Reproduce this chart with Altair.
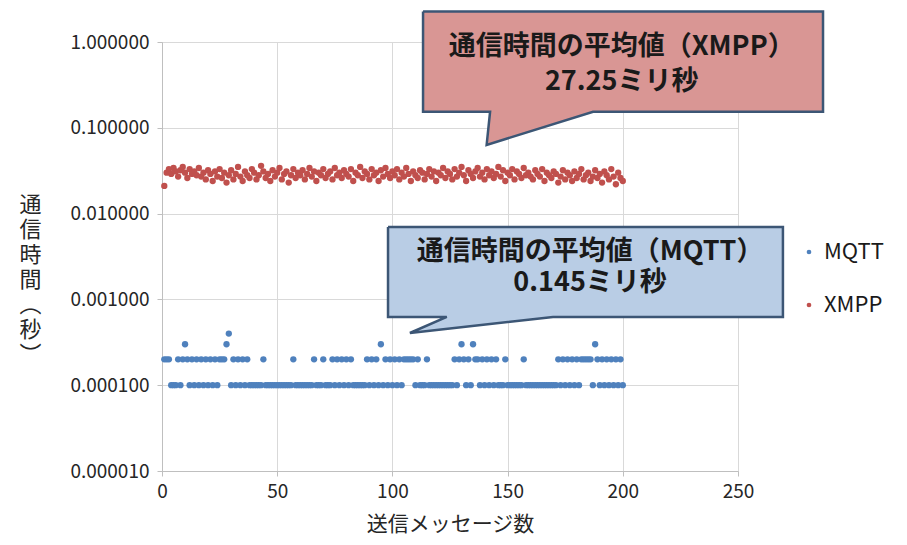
import altair as alt
import pandas as pd

# ---------------- data ----------------
message_no = list(range(1, 201))

mqtt_us = [
    200, 200, 200, 100, 100, 100, 200, 100, 200, 300,
    200, 100, 200, 100, 200, 100, 200, 100, 200, 100,
    200, 100, 200, 100, 200, 200, 200, 300, 400, 100,
    200, 100, 200, 100, 200, 100, 200, 100, 100, 100,
    100, 100, 100, 200, 100, 100, 100, 100, 100, 100,
    100, 100, 100, 100, 100, 100, 200, 100, 100, 100,
    100, 100, 100, 100, 100, 200, 100, 100, 100, 200,
    100, 100, 100, 200, 100, 200, 100, 200, 100, 200,
    100, 200, 100, 100, 100, 100, 100, 100, 200, 100,
    200, 100, 200, 100, 300, 100, 200, 100, 200, 100,
    200, 100, 200, 100, 200, 200, 200, 200, 200, 100,
    200, 100, 100, 100, 200, 100, 100, 100, 100, 100,
    100, 100, 100, 100, 100, 100, 200, 100, 200, 300,
    200, 100, 200, 100, 300, 200, 200, 100, 200, 100,
    200, 100, 200, 100, 200, 100, 100, 100, 200, 100,
    100, 100, 100, 100, 100, 100, 200, 100, 100, 100,
    100, 100, 100, 100, 100, 100, 100, 100, 100, 100,
    100, 200, 100, 200, 100, 200, 100, 200, 100, 200,
    100, 200, 200, 200, 200, 200, 100, 300, 200, 100,
    200, 100, 200, 100, 200, 100, 200, 100, 200, 100,
]

xmpp_ms = [
    21, 30, 33, 29, 34, 31, 27, 32, 35, 30, 26, 33, 29, 31, 28, 34, 27, 30, 25, 32,
    29, 24, 31, 27, 33, 26, 30, 23, 28, 32, 25, 29, 35, 27, 24, 31, 28, 26, 33, 30,
    25, 28, 36, 31, 26, 29, 24, 32, 27, 30, 34, 25, 29, 31, 23, 28, 33, 26, 30, 28,
    32, 25, 29, 34, 27, 31, 24, 30, 28, 33, 26, 29, 31, 25, 34, 28, 30, 26, 32, 29,
    27, 33, 24, 30, 28, 35, 26, 31, 29, 25, 33, 28, 30, 24, 32, 27, 34, 29, 26, 31,
    28, 33, 25, 30, 27, 34, 29, 24, 31, 28, 26, 32, 30, 25, 29, 33, 27, 31, 24, 30,
    28, 34, 26, 31, 29, 25, 33, 27, 30, 35, 28, 24, 32, 29, 26, 31, 34, 27, 30, 25,
    33, 28, 31, 26, 29, 35, 27, 32, 24, 30, 28, 33, 25, 31, 29, 26, 34, 28, 30, 27,
    25, 32, 29, 27, 33, 24, 30, 28, 26, 31, 29, 23, 27, 32, 25, 30, 28, 24, 31, 26,
    29, 33, 25, 28, 30, 24, 27, 32, 26, 29, 23, 31, 28, 25, 33, 27, 22, 30, 26, 24,
]

series_names = ["MQTT", "XMPP"]
series_colors = ["#4F81BD", "#C0504D"]

x_ticks = [0, 50, 100, 150, 200, 250]
y_ticks = [0.00001, 0.0001, 0.001, 0.01, 0.1, 1.0]

xmpp_label = "通信時間の平均値（XMPP）\n27.25ミリ秒"
mqtt_label = "通信時間の平均値（MQTT）\n0.145ミリ秒"

# callout outlines (data coordinates)
xmpp_callout_x = [113.3, 286.9, 286.9, 187.1, 140.9, 142.4, 113.3, 113.3]
xmpp_callout_y = [2.26, 2.26, 0.154, 0.154, 0.0631, 0.154, 0.154, 2.26]
mqtt_callout_x = [98.1, 269.5, 269.5, 169.7, 107.6, 123.6, 98.1, 98.1]
mqtt_callout_y = [0.00698, 0.00698, 0.000624, 0.000624, 0.000406, 0.000624, 0.000624, 0.00698]

FONT = "Noto Sans CJK JP"

# ---------------- frames ----------------
points = pd.DataFrame({
    "n": message_no + message_no,
    "t": [v / 1e6 for v in mqtt_us] + [v / 1000 for v in xmpp_ms],
    "s": ["MQTT"] * len(mqtt_us) + ["XMPP"] * len(xmpp_ms),
})

xmpp_poly = pd.DataFrame({"x": xmpp_callout_x, "y": xmpp_callout_y, "k": list(range(len(xmpp_callout_x)))})
mqtt_poly = pd.DataFrame({"x": mqtt_callout_x, "y": mqtt_callout_y, "k": list(range(len(mqtt_callout_x)))})

xscale = alt.Scale(domain=[0, 250], nice=False, zero=False)
yscale = alt.Scale(type="log", domain=[0.00001, 1.0], nice=False)

xaxis = alt.Axis(values=x_ticks, title="送信メッセージ数", grid=True, labelFlush=False,
                 tickSize=5, tickColor="#BFBFBF", domainColor="#BFBFBF", gridColor="#D9D9D9",
                 labelFontSize=19, labelFont=FONT, labelColor="#262626", labelPadding=6,
                 titleFontSize=21, titleFont=FONT, titleColor="#262626", titleFontWeight="normal",
                 titlePadding=12)
yaxis = alt.Axis(values=y_ticks, format=".6f", grid=True,
                 title=["通", "信", "時", "間", "︵", "秒", "︶"],
                 titleAngle=0, titleAlign="center", titleBaseline="middle",
                 titleX=-132, titleY=162, titleLineHeight=25,
                 tickSize=5, tickColor="#BFBFBF", domainColor="#BFBFBF", gridColor="#D9D9D9",
                 labelFontSize=19, labelFont=FONT, labelColor="#262626", labelPadding=8,
                 titleFontSize=22, titleFont=FONT, titleColor="#262626", titleFontWeight="normal")

scatter = alt.Chart(points).mark_circle(size=40, opacity=1).encode(
    x=alt.X("n:Q", scale=xscale, axis=xaxis),
    y=alt.Y("t:Q", scale=yscale, axis=yaxis),
    color=alt.Color("s:N", scale=alt.Scale(domain=series_names, range=series_colors),
                    legend=alt.Legend(title=None, orient="none", legendX=636, legendY=199,
                                      symbolType="circle", symbolSize=22, labelFontSize=22,
                                      labelFont=FONT, labelColor="#1A1A1A", rowPadding=31,
                                      labelOffset=4, padding=0)),
)

xmpp_box = alt.Chart(xmpp_poly).mark_line(fill="#D99694", stroke="#3C5675", strokeWidth=2.5,
                                          strokeJoin="miter", clip=False).encode(
    x=alt.X("x:Q", scale=xscale), y=alt.Y("y:Q", scale=yscale), order="k:Q")
mqtt_box = alt.Chart(mqtt_poly).mark_line(fill="#B9CDE5", stroke="#3C5675", strokeWidth=2.5,
                                          strokeJoin="miter", clip=False).encode(
    x=alt.X("x:Q", scale=xscale), y=alt.Y("y:Q", scale=yscale), order="k:Q")

xmpp_text = alt.Chart(pd.DataFrame({"x": [199.5], "y": [0.882], "t": [xmpp_label]})).mark_text(
    font=FONT, fontSize=27, fontWeight="bold", color="#1A1A1A", lineBreak="\n", lineHeight=35,
    align="center", baseline="middle").encode(
    x=alt.X("x:Q", scale=xscale), y=alt.Y("y:Q", scale=yscale), text="t:N")
mqtt_text = alt.Chart(pd.DataFrame({"x": [185.8], "y": [0.00357], "t": [mqtt_label]})).mark_text(
    font=FONT, fontSize=27, fontWeight="bold", color="#1A1A1A", lineBreak="\n", lineHeight=31,
    align="center", baseline="middle").encode(
    x=alt.X("x:Q", scale=xscale), y=alt.Y("y:Q", scale=yscale), text="t:N")

chart = alt.layer(scatter, xmpp_box, mqtt_box, xmpp_text, mqtt_text).properties(
    width=576, height=429,
    padding={"left": 154, "top": 34, "right": 160, "bottom": 70},
    autosize=alt.AutoSizeParams(type="none"),
).configure_view(stroke=None).configure(background="white")

chart.save("out.html", embed_options={"renderer": "svg", "actions": False})
